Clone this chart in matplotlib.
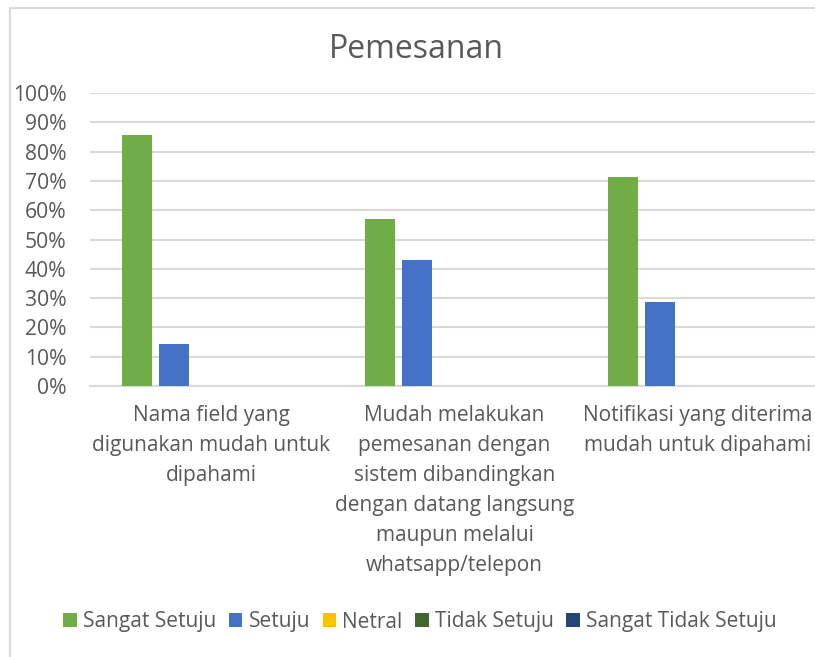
import numpy as np
import matplotlib.pyplot as plt
from matplotlib.patches import Rectangle

# survey answers per statement (fraction of respondents)
categories = [
    "Nama field yang\ndigunakan mudah untuk\ndipahami",
    "Mudah melakukan\npemesanan dengan\nsistem dibandingkan\ndengan datang langsung\nmaupun melalui\nwhatsapp/telepon",
    "Notifikasi yang diterima\nmudah untuk dipahami",
]
series_names = ["Sangat Setuju", "Setuju", "Netral", "Tidak Setuju", "Sangat Tidak Setuju"]
sangat_setuju = [0.857, 0.571, 0.714]
setuju = [0.143, 0.429, 0.286]
netral = [0.0, 0.0, 0.0]
tidak_setuju = [0.0, 0.0, 0.0]
sangat_tidak_setuju = [0.0, 0.0, 0.0]
yticks = np.arange(0, 1.01, 0.1)

colors = ["#70ad47", "#4472c4", "#ffc000", "#43682b", "#264478"]
text_color = "#595959"
grid_color = "#d9d9d9"

plt.rcParams['font.family'] = ['Open Sans', 'DejaVu Sans']

W, H = 815, 657
fig = plt.figure(figsize=(W / 100, H / 100), dpi=100)

# light chart frame
fig.patches.append(Rectangle((10 / W, -0.1), 2.0, (H - 8) / H + 0.1,
                             transform=fig.transFigure, fill=False,
                             edgecolor=grid_color, linewidth=1.5))

# plot area runs past the right edge of the figure
left, right = 90, 819
bottom, top = 386, 93
ax = fig.add_axes([left / W, (H - bottom) / H, (right - left) / W, (bottom - top) / H])

x = np.arange(len(categories))
pitch = 0.1535
width = 0.121
all_series = [sangat_setuju, setuju, netral, tidak_setuju, sangat_tidak_setuju]
for i, (name, vals) in enumerate(zip(series_names, all_series)):
    ax.bar(x + (i - 2) * pitch, vals, width, color=colors[i], label=name, zorder=3)

ax.set_xlim(-0.5, 2.5)
ax.set_ylim(0, 1)
ax.set_yticks(yticks)
ax.set_yticklabels([f"{int(round(t * 100))}%" for t in yticks])
ax.grid(axis='y', color=grid_color, linewidth=1.5, zorder=0)
ax.tick_params(axis='y', length=0, pad=17, labelsize=15.2, labelcolor=text_color)
ax.set_xticks(x)
ax.set_xticklabels(categories, fontsize=15, color=text_color, linespacing=1.56)
ax.tick_params(axis='x', length=0, pad=14)
for s in ['top', 'right', 'left']:
    ax.spines[s].set_visible(False)
ax.spines['bottom'].set_color(grid_color)
ax.spines['bottom'].set_linewidth(1.5)

fig.text(416 / W, 1 - 50 / H, "Pemesanan", ha='center', va='center',
         fontsize=23, color=text_color)

handles, labels = ax.get_legend_handles_labels()
fig.legend(handles, labels, loc='center', bbox_to_anchor=(420 / W, 1 - 622 / H),
           ncol=5, frameon=False, fontsize=15, labelcolor=text_color,
           handlelength=0.65, handleheight=0.65, handletextpad=0.3,
           columnspacing=0.6)

fig.savefig("out.png", dpi=100)
